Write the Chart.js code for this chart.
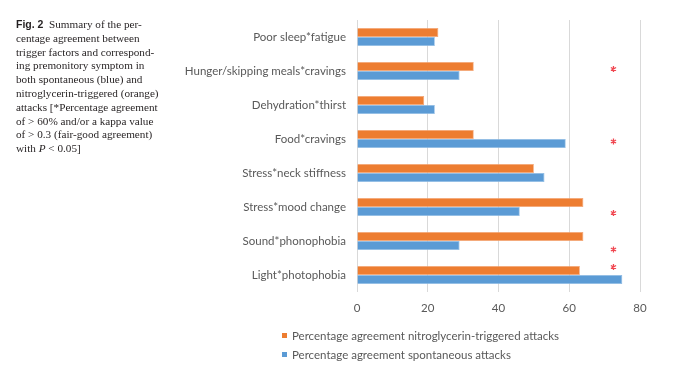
<!DOCTYPE html>
<html>
<head>
<meta charset="utf-8">
<script src="https://cdn.jsdelivr.net/npm/chart.js@4"></script>
<style>
  html, body { margin: 0; padding: 0; background: #fff; }
  #wrap { position: relative; width: 677px; height: 366px; overflow: hidden; }
  #chart { position: absolute; left: 0; top: 0; }
  #caption {
    position: absolute; left: 16px; top: 18px;
    font-family: "Liberation Serif", serif; font-size: 11.2px; line-height: 13.8px; color: #231f20;
  }
  #caption b { font-family: "Liberation Sans", sans-serif; font-size: 10.5px; }
  #legend { position: absolute; left: 282px; top: 326px; font-family: Lato, sans-serif; font-size: 11.5px; color: #595959; }
  #legend div { height: 19.3px; display: flex; align-items: center; white-space: nowrap; }
  #legend span.box { display: inline-block; width: 5px; height: 5px; margin-right: 5px; }
</style>
</head>
<body>
<div id="wrap">
  <canvas id="chart" width="677" height="366"></canvas>
  <div id="caption">
    <b>Fig. 2</b>&nbsp; Summary of the per-<br>
    centage agreement between<br>
    trigger factors and correspond-<br>
    ing premonitory symptom in<br>
    both spontaneous (blue) and<br>
    nitroglycerin-triggered (orange)<br>
    attacks [*Percentage agreement<br>
    of &gt; 60% and/or a kappa value<br>
    of &gt; 0.3 (fair-good agreement)<br>
    with <i>P</i> &lt; 0.05]
  </div>
  <div id="legend"></div>
</div>
<script>
const categories = [
    'Poor sleep*fatigue',
    'Hunger/skipping meals*cravings',
    'Dehydration*thirst',
    'Food*cravings',
    'Stress*neck stiffness',
    'Stress*mood change',
    'Sound*phonophobia',
    'Light*photophobia'
];

const nitroglycerinAgreement = [23, 33, 19, 33, 50, 64, 64, 63];
const spontaneousAgreement = [22, 29, 22, 59, 53, 46, 29, 75];

// 1 = significant (red asterisk)
const significant = [0, 1, 0, 1, 0, 1, 1, 1];
const asteriskValue = 72.5;

const xTicks = [0, 20, 40, 60, 80];

const fontFamily = 'Lato, sans-serif';

// small vertical nudges of the asterisks, as in the original figure
const asteriskNudge = { 1: -2, 3: 2.5, 5: 6, 6: 8.5, 7: -8 };

const asterisks = {
    id: 'asterisks',
    afterDatasetsDraw(chart) {
        const { ctx, scales: { x, y } } = chart;
        ctx.save();
        ctx.strokeStyle = '#f0454f';
        ctx.lineWidth = 1.3;
        significant.forEach((flag, i) => {
            if (!flag) return;
            const cx = x.getPixelForValue(asteriskValue);
            const cy = y.getPixelForValue(i) + (asteriskNudge[i] || 0);
            const r = 3;
            ctx.beginPath();
            for (let k = 0; k < 3; k++) {
                const a = Math.PI / 2 + k * Math.PI / 3;
                ctx.moveTo(cx - r * Math.cos(a), cy - r * Math.sin(a));
                ctx.lineTo(cx + r * Math.cos(a), cy + r * Math.sin(a));
            }
            ctx.stroke();
        });
        ctx.restore();
    }
};

const ctx = document.getElementById('chart');

const chart = new Chart(ctx, {
    type: 'bar',
    data: {
        labels: categories,
        datasets: [
            {
                label: 'Percentage agreement nitroglycerin-triggered attacks',
                data: nitroglycerinAgreement,
                backgroundColor: '#ed7d31',
                borderColor: '#f4a574',
                borderWidth: 0.8
            },
            {
                label: 'Percentage agreement spontaneous attacks',
                data: spontaneousAgreement,
                backgroundColor: '#5b9bd5',
                borderColor: '#8dbbe4',
                borderWidth: 0.8
            }
        ]
    },
    options: {
        indexAxis: 'y',
        responsive: false,
        animation: false,
        devicePixelRatio: 1,
        categoryPercentage: 0.53,
        barPercentage: 1,
        layout: { padding: { left: 0, right: 37, top: 20, bottom: 0 } },
        plugins: {
            legend: { display: false },
            tooltip: { enabled: false }
        },
        scales: {
            x: {
                min: 0,
                max: 80,
                afterBuildTicks: scale => {
                    scale.ticks = xTicks.map(v => ({ value: v }));
                },
                afterFit: scale => { scale.height = 74; },
                grid: { color: '#d9d9d9', lineWidth: 1, drawTicks: false },
                border: { display: false },
                ticks: {
                    padding: 9,
                    color: '#595959',
                    font: { family: fontFamily, size: 11.5 }
                }
            },
            y: {
                afterFit: scale => { scale.width = 357; },
                grid: { display: false, drawTicks: false },
                border: { display: false },
                ticks: {
                    padding: 11,
                    color: '#595959',
                    font: { family: fontFamily, size: 11.5 }
                }
            }
        }
    },
    plugins: [asterisks]
});

// legend below the plot, left aligned like the original
const legendEl = document.getElementById('legend');
chart.data.datasets.forEach(ds => {
    const row = document.createElement('div');
    const box = document.createElement('span');
    box.className = 'box';
    box.style.background = ds.backgroundColor;
    row.appendChild(box);
    row.appendChild(document.createTextNode(ds.label));
    legendEl.appendChild(row);
});
</script>
</body>
</html>
